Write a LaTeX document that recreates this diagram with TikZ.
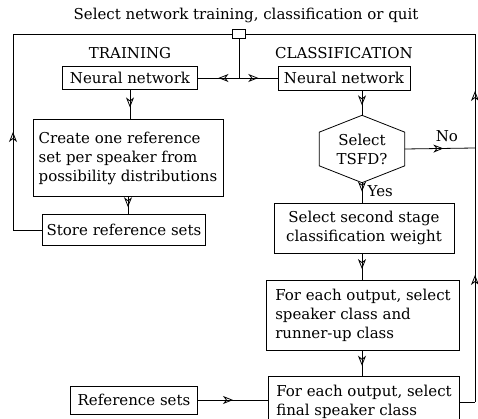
\documentclass[tikz,border=0pt]{standalone}
\usepackage{fontspec}
\setmainfont{DejaVu Serif}
\usetikzlibrary{arrows.meta,calc,decorations.markings}

\begin{document}
\begin{tikzpicture}[x=1pt, y=-1pt, font=\fontsize{15}{19}\selectfont,
        line/.style = {draw = black, line width=0.8pt},
        flow/.style = {line, postaction={decorate},
            decoration={markings, mark=at position #1 with
                {\arrow{Stealth[open, length=10pt, width=8pt, inset=3pt]}}}},
        flow/.default = 0.5,
        box/.style = {draw, line width=0.8pt, inner sep=0pt, align=left}]
    \useasboundingbox (0,0) rectangle (478,419);
    \clip (0,0) rectangle (478,419);
    % headings
    \node (title) at (246,15) {Select network training, classification or quit};
    \node[draw, line width=0.8pt, minimum width=13pt, minimum height=9pt,
        inner sep=0pt] (sel) at (239,34) {};
    \node (trlab) at (130,53) {TRAINING};
    \node (cllab) at (344,53) {CLASSIFICATION};
    % training column
    \node[box, minimum width=135pt, minimum height=23pt] (trnn) at (130,78) {Neural network};
    \node[box, minimum width=190pt, minimum height=77pt] (create) at (128,158)
        {Create one reference\\set per speaker from\\possibility distributions};
    \node[box, minimum width=163pt, minimum height=31pt] (store) at (124,230) {Store reference sets};
    % classification column
    \node[box, minimum width=132pt, minimum height=24pt] (clnn) at (344,78) {Neural network};
    \node[minimum width=85pt, minimum height=67pt, inner sep=0pt, align=center]
        (tsfd) at (362,149) {Select\\TSFD?};
    \draw[line] (tsfd.north)
        -- ($(tsfd.north east)!0.25!(tsfd.south east)$)
        -- ($(tsfd.north east)!0.75!(tsfd.south east)$)
        -- (tsfd.south)
        -- ($(tsfd.north west)!0.75!(tsfd.south west)$)
        -- ($(tsfd.north west)!0.25!(tsfd.south west)$)
        -- cycle;
    \node[box, minimum width=180pt, minimum height=50pt, align=center] (stage) at (364,228)
        {Select second stage\\classification weight};
    \node[box, minimum width=193pt, minimum height=70pt] (runner) at (363,315)
        {For each output, select\\speaker class and\\runner-up class};
    \node[box, minimum width=191pt, inner ysep=9pt, anchor=north] (final) at (364,376)
        {For each output, select\\final speaker class\\[4pt]};
    \node[box, minimum width=127pt, minimum height=28pt] (refs) at (134,400) {Reference sets};
    % corners of the loops
    \coordinate (c-j) at (239,78);
    \coordinate (c-l0) at (13,230);
    \coordinate (c-l1) at (13,34);
    \coordinate (c-r0) at (475,402);
    \coordinate (c-r1) at (475,148);
    \coordinate (c-r2) at (475,34);
    % connectors
    \draw[line] (sel) -- (c-j);
    \draw[flow] (c-j) -- (trnn.east);
    \draw[flow] (c-j) -- (clnn.west);
    \draw[flow=0.6] (trnn.south) -- (trnn.south |- create.north);
    \draw[flow=0.6] (create.south) -- (create.south |- store.north);
    \draw[line] (store.west) -- (c-l0);
    \draw[flow] (c-l0) -- (c-l1);
    \draw[line] (c-l1) -- (sel.west);
    \draw[flow=0.6] (tsfd.north |- clnn.south) -- (tsfd.north);
    \draw[flow=0.55] (tsfd.east) -- (c-r1) node[pos=0.6, above=3pt] {No};
    \draw[flow=0.45] (tsfd.south) -- (tsfd.south |- stage.north)
        node[pos=0.4, right=2pt] {Yes};
    \draw[flow=0.6] (tsfd.south |- stage.south) -- (tsfd.south |- runner.north);
    \draw[flow=0.6] (tsfd.south |- runner.south) -- (tsfd.south |- final.north);
    \draw[flow] (refs.east) -- (refs.east -| final.west);
    \draw[line] (final.east |- c-r0) -- (c-r0);
    \draw[flow] (c-r0) -- (c-r1);
    \draw[flow] (c-r1) -- (c-r2);
    \draw[line] (c-r2) -- (sel.east);
\end{tikzpicture}
\end{document}
